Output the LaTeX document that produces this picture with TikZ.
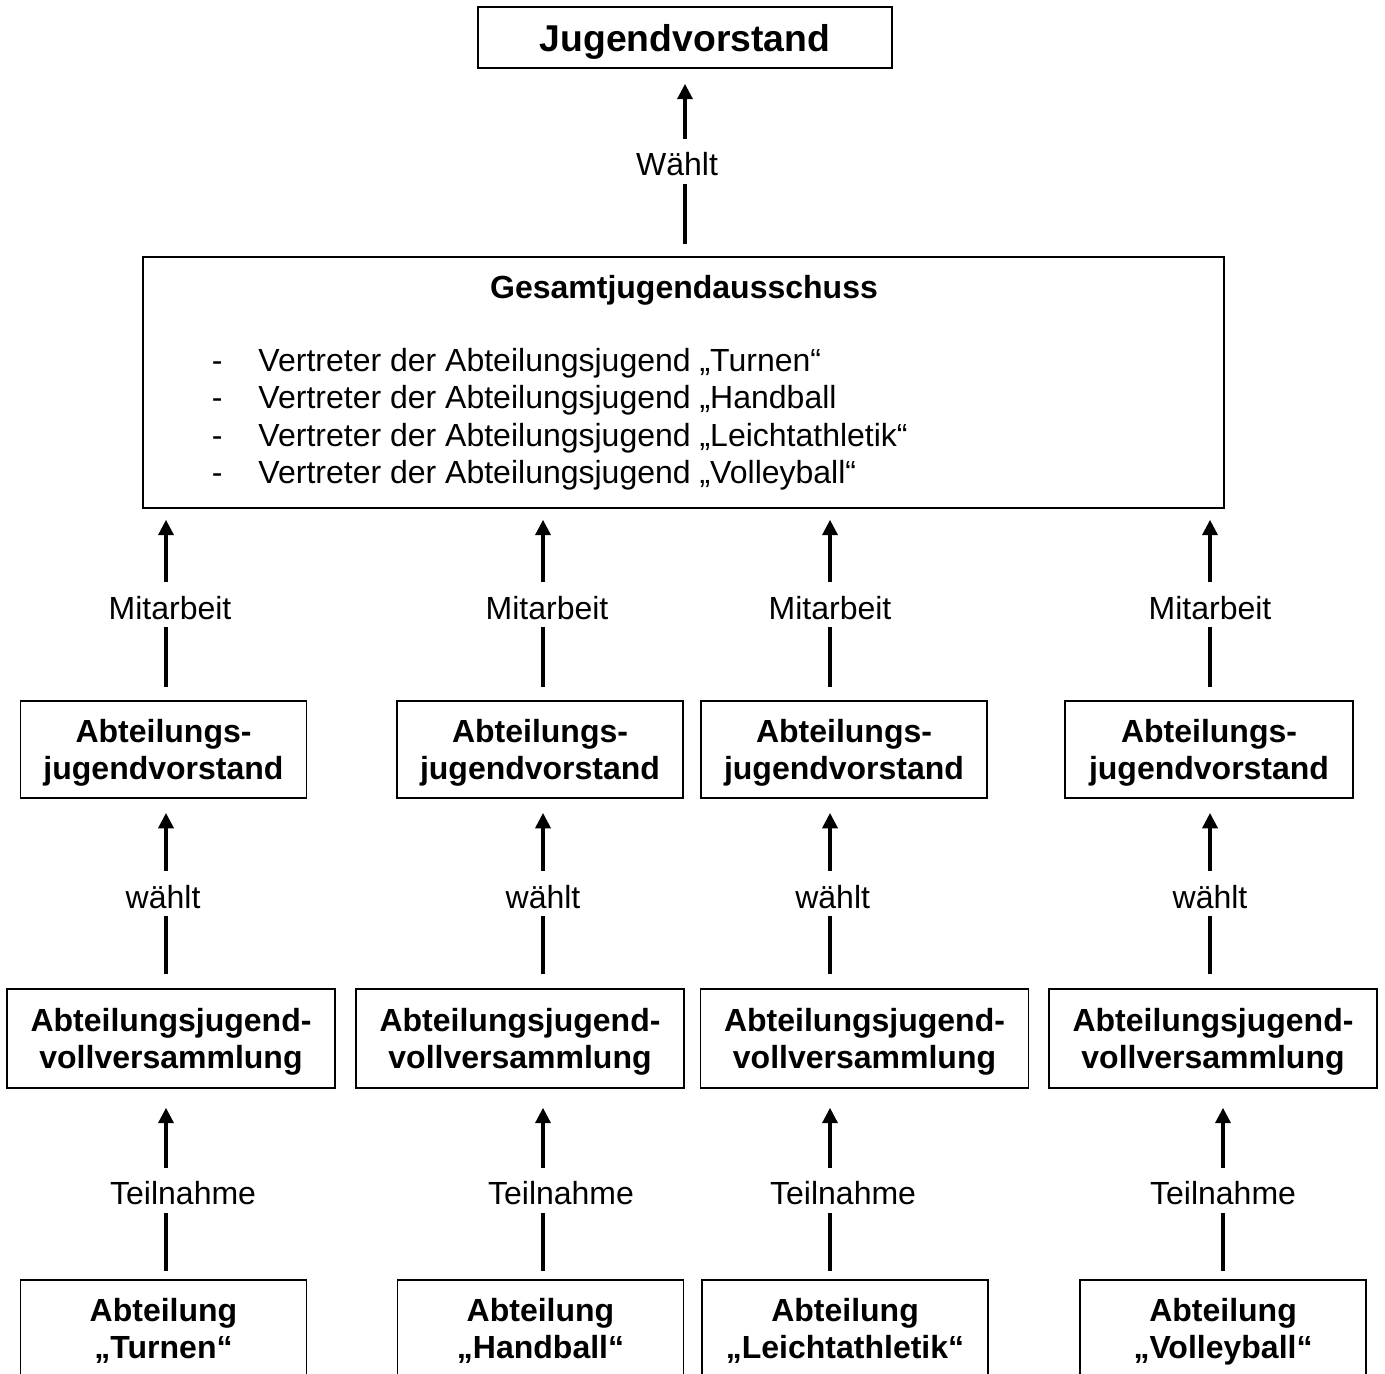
\documentclass[tikz,border=0pt]{standalone}
\usepackage{fontspec}
\setmainfont{Liberation Sans}
\usetikzlibrary{arrows.meta}
\newcommand{\dashitem}{\makebox[17.5pt][l]{-}}
\tikzset{
  box/.style={draw, line width=0.6pt, inner sep=0pt, align=center, text depth=0pt,
    font=\bfseries\fontsize{12pt}{14pt}\selectfont, minimum height=36.4pt},
  smallbox/.style={box, minimum width=107.25pt},
  widebox/.style={box, minimum width=123pt, minimum height=37.1pt},
  arr/.style={-{Triangle[length=5.8pt,width=5.6pt]}, line width=1.4pt},
  lbl/.style={fill=white, inner ysep=0pt, inner xsep=3pt, text height=13.9pt, text depth=3pt,
    font=\fontsize{12pt}{14pt}\selectfont},
}
\begin{document}
\begin{tikzpicture}[x=0.375pt, y=-0.375pt]
    \useasboundingbox (0,0) rectangle (1385,1373);
    \clip (0,0) rectangle (1385,1373);

    % top level
    \node[box, minimum width=155.25pt, minimum height=22.9pt, font=\bfseries\fontsize{14pt}{16pt}\selectfont] (jv) at (685,37.5) {Jugendvorstand};
    \node[draw, line width=0.6pt, minimum width=405.4pt, minimum height=94.1pt, inner sep=0pt] (gja) at (683.5,382.5) {};
    \node[anchor=base, inner sep=0pt, font=\bfseries\fontsize{12pt}{14pt}\selectfont] (gjatitle) at (684,298) {Gesamtjugendausschuss};
    \node[anchor=north west, align=left, inner sep=0pt, font=\fontsize{12pt}{14.06pt}\selectfont] (gjalist) at (211.3,347.5)
        {\dashitem Vertreter der Abteilungsjugend „Turnen“\\
         \dashitem Vertreter der Abteilungsjugend „Handball\\
         \dashitem Vertreter der Abteilungsjugend „Leichtathletik“\\
         \dashitem Vertreter der Abteilungsjugend „Volleyball“};

    % Abteilungsjugendvorstand
    \node[smallbox] (ajv1) at (163.5,749.5) {Abteilungs-\\jugendvorstand};
    \node[smallbox] (ajv2) at (540,749.5) {Abteilungs-\\jugendvorstand};
    \node[smallbox] (ajv3) at (844,749.5) {Abteilungs-\\jugendvorstand};
    \node[smallbox, minimum width=108pt] (ajv4) at (1209,749.5) {Abteilungs-\\jugendvorstand};

    % Vollversammlung
    \node[widebox] (vv1) at (171,1038.5) {Abteilungsjugend-\\vollversammlung};
    \node[widebox] (vv2) at (520,1038.5) {Abteilungsjugend-\\vollversammlung};
    \node[widebox] (vv3) at (864.5,1038.5) {Abteilungsjugend-\\vollversammlung};
    \node[widebox] (vv4) at (1213,1038.5) {Abteilungsjugend-\\vollversammlung};

    % Abteilungen
    \node[smallbox] (ab1) at (163.5,1328.5) {Abteilung\\„Turnen“};
    \node[smallbox] (ab2) at (540.5,1328.5) {Abteilung\\„Handball“};
    \node[smallbox] (ab3) at (845,1328.5) {Abteilung\\„Leichtathletik“};
    \node[smallbox] (ab4) at (1223,1328.5) {Abteilung\\„Volleyball“};

    \coordinate (x1) at (166,0);
    \coordinate (x2) at (543,0);
    \coordinate (x3) at (830,0);
    \coordinate (x4) at (1210,0);

    \draw[arr, shorten <=4.5pt, shorten >=5.6pt] (gja.north -| jv.south) -- (jv.south) node[lbl, midway, xshift=-3pt, yshift=0.5pt] (lw) {Wählt};

    \draw[arr, shorten <=4.9pt, shorten >=4.1pt] (ajv1.north -| x1) -- (gja.south -| x1) node[lbl, midway, xshift=1.5pt] (lm1) {Mitarbeit};
    \draw[arr, shorten <=4.9pt, shorten >=4.1pt] (ajv2.north -| x2) -- (gja.south -| x2) node[lbl, midway, xshift=1.5pt] (lm2) {Mitarbeit};
    \draw[arr, shorten <=4.9pt, shorten >=4.1pt] (ajv3.north -| x3) -- (gja.south -| x3) node[lbl, midway] (lm3) {Mitarbeit};
    \draw[arr, shorten <=4.9pt, shorten >=4.1pt] (ajv4.north -| x4) -- (gja.south -| x4) node[lbl, midway] (lm4) {Mitarbeit};

    \draw[arr, shorten <=5.25pt, shorten >=5.25pt] (vv1.north -| x1) -- (ajv1.south -| x1) node[lbl, midway, xshift=-1.1pt] (lw1) {wählt};
    \draw[arr, shorten <=5.25pt, shorten >=5.25pt] (vv2.north -| x2) -- (ajv2.south -| x2) node[lbl, midway] (lw2) {wählt};
    \draw[arr, shorten <=5.25pt, shorten >=5.25pt] (vv3.north -| x3) -- (ajv3.south -| x3) node[lbl, midway, xshift=1pt] (lw3) {wählt};
    \draw[arr, shorten <=5.25pt, shorten >=5.25pt] (vv4.north -| x4) -- (ajv4.south -| x4) node[lbl, midway] (lw4) {wählt};

    \draw[arr, shorten <=3pt, shorten >=7.1pt] (ab1.north -| x1) -- (vv1.south -| x1) node[lbl, midway, xshift=6.4pt, yshift=-2.4pt] (lt1) {Teilnahme};
    \draw[arr, shorten <=3pt, shorten >=7.1pt] (ab2.north -| x2) -- (vv2.south -| x2) node[lbl, midway, xshift=6.75pt, yshift=-2.4pt] (lt2) {Teilnahme};
    \draw[arr, shorten <=3pt, shorten >=7.1pt] (ab3.north -| x3) -- (vv3.south -| x3) node[lbl, midway, xshift=4.9pt, yshift=-2.4pt] (lt3) {Teilnahme};
    \draw[arr, shorten <=3pt, shorten >=7.1pt] (ab4.north) -- (ab4.north |- vv4.south) node[lbl, midway, yshift=-2.4pt] (lt4) {Teilnahme};

\end{tikzpicture}
\end{document}
